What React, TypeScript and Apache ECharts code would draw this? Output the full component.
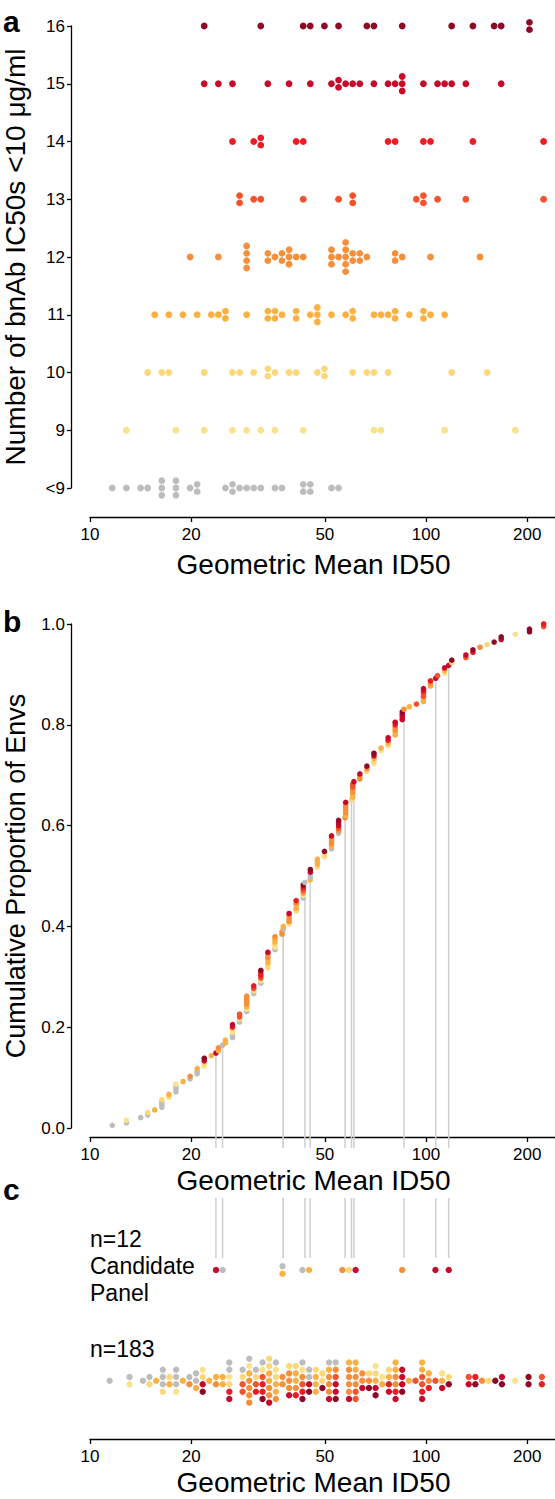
import React, { useEffect, useRef } from "react";
import * as echarts from "echarts";

const FONT = '"Liberation Sans", Arial, Helvetica, sans-serif';

// Groups: number of bnAb IC50s < 10 ug/ml
const GROUPS = ["<9", "9", "10", "11", "12", "13", "14", "15", "16"];
const GROUP_COLORS = ["#bdbdbd", "#f8e38c", "#fdd878", "#fbb044", "#f68f3a", "#f4512c", "#ec1c24", "#c70a2c", "#8c0a26"];

// Geometric mean ID50 of each Env, per group
const ROW_LT9 = [11.65, 12.84, 14.15, 14.85, 16.36, 16.36, 16.36, 18.02, 18.02, 18.02, 19.86, 20.84, 20.84, 25.3, 26.55, 26.55, 27.87, 29.26, 30.71, 32.24, 35.52, 37.28, 43.12, 43.12, 45.26, 45.26, 52.34, 54.94];
const ROW_9 = [12.84, 18.02, 21.88, 26.55, 29.26, 32.24, 35.52, 43.12, 70.0, 73.48, 113.6, 184.4];
const ROW_10 = [14.85, 16.36, 17.17, 21.88, 26.55, 27.87, 30.71, 33.84, 33.84, 35.52, 39.13, 41.07, 47.5, 49.86, 49.86, 60.53, 66.69, 70.0, 77.13, 119.3, 152.0];
const ROW_11 = [15.58, 17.17, 18.92, 20.84, 22.96, 24.1, 25.3, 25.3, 29.26, 33.84, 33.84, 35.52, 35.52, 37.28, 41.07, 41.07, 45.26, 47.5, 47.5, 47.5, 52.34, 57.67, 60.53, 60.53, 70.0, 73.48, 77.13, 80.96, 80.96, 89.2, 98.28, 98.28, 103.1, 113.6];
const ROW_12 = [19.86, 24.1, 29.26, 29.26, 29.26, 29.26, 33.84, 33.84, 35.52, 37.28, 37.28, 39.13, 39.13, 39.13, 41.07, 43.12, 52.34, 52.34, 52.34, 54.94, 57.67, 57.67, 57.67, 57.67, 57.67, 60.53, 60.53, 63.54, 63.54, 66.69, 80.96, 80.96, 84.98, 103.1, 144.8];
const ROW_13 = [27.87, 27.87, 30.71, 32.24, 43.12, 54.94, 60.53, 60.53, 93.63, 98.28, 98.28, 108.2, 131.4, 223.9];
const ROW_14 = [26.55, 30.71, 32.24, 32.24, 41.07, 43.12, 77.13, 80.96, 98.28, 103.1, 137.9, 223.9];
const ROW_15 = [21.88, 24.1, 26.55, 33.84, 39.13, 45.26, 52.34, 54.94, 54.94, 57.67, 60.53, 63.54, 70.0, 77.13, 80.96, 84.98, 84.98, 84.98, 98.28, 108.2, 113.6, 119.3, 131.4, 167.4];
const ROW_16 = [21.88, 32.24, 43.12, 45.26, 49.86, 54.94, 66.69, 70.0, 84.98, 119.3, 137.9, 159.5, 167.4, 203.2, 203.2];
const ROWS = [ROW_LT9, ROW_9, ROW_10, ROW_11, ROW_12, ROW_13, ROW_14, ROW_15, ROW_16];

// n=12 candidate panel
const CANDIDATE_VALUES = [23.7, 24.8, 37.6, 37.6, 43.6, 45.2, 57.4, 60.0, 61.0, 86.0, 106.9, 116.8];
const CANDIDATE_GROUPS = ["15", "<9", "<9", "11", "<9", "11", "12", "10", "15", "12", "15", "15"];

// axis
const X_TICKS = [10, 20, 50, 100, 200];
const X_MIN = 10;
const X_MAX = 242;
const Y_TICKS_B = [0, 0.2, 0.4, 0.6, 0.8, 1.0];

// dot-plot bin widths (log10 units)
const BIN_A = { anchor: 1.066369, step: 0.021042 };
const BIN_C = { anchor: 1.375, step: 0.01979 };

type Item = { v: number; g: number; cand: boolean };

function binStack(items: Item[], anchor: number, step: number) {
  const bins = new Map<number, Item[]>();
  items.forEach((it) => {
    const k = Math.round((Math.log10(it.v) - anchor) / step);
    if (!bins.has(k)) bins.set(k, []);
    bins.get(k)!.push(it);
  });
  const out: { x: number; s: number; g: number }[] = [];
  bins.forEach((list, k) => {
    const n = list.length;
    list.forEach((it, j) => out.push({ x: anchor + k * step, s: (n - 1) / 2 - j, g: it.g }));
  });
  return out;
}

function buildOption() {
  const lg = Math.log10;
  const groupIdx = (s: string) => GROUPS.indexOf(s);

  // remove candidates from their rows -> the other 183
  const rest = ROWS.map((r) => r.slice());
  const candidates: Item[] = CANDIDATE_VALUES.map((v, i) => ({ v, g: groupIdx(CANDIDATE_GROUPS[i]), cand: true }));
  candidates.forEach((c) => {
    const row = rest[c.g];
    let best = 0;
    row.forEach((v, j) => {
      if (Math.abs(lg(v / c.v)) < Math.abs(lg(row[best] / c.v))) best = j;
    });
    row.splice(best, 1);
  });
  const others: Item[] = [];
  rest.forEach((r, g) => r.forEach((v) => others.push({ v, g, cand: false })));
  others.sort((a, b) => a.v - b.v || a.g - b.g);

  // panel a
  const DY_A = 0.1264;
  const dataA: any[] = [];
  ROWS.forEach((r, g) => {
    binStack(r.map((v) => ({ v, g, cand: false })), BIN_A.anchor, BIN_A.step).forEach((d) => {
      dataA.push({ value: [d.x, g + d.s * DY_A], itemStyle: { color: GROUP_COLORS[g] } });
    });
  });

  // panel b: cumulative proportion
  const all = [...others, ...candidates].sort((a, b) => a.v - b.v || a.g - b.g);
  const N = all.length;
  const dataB = all.map((it, i) => ({ value: [lg(it.v), (i + 1) / N], itemStyle: { color: GROUP_COLORS[it.g] } }));
  const linesB = all
    .map((it, i) => ({ it, i }))
    .filter((o) => o.it.cand)
    .map((o) => [lg(o.it.v), (o.i + 1) / N]);

  // panel c
  const DY_C = 0.066;
  const dataC: any[] = [];
  binStack(candidates, BIN_C.anchor, BIN_C.step).forEach((d) =>
    dataC.push({ value: [d.x, 1 + d.s * DY_C], itemStyle: { color: GROUP_COLORS[d.g] } })
  );
  binStack(others, BIN_C.anchor, BIN_C.step).forEach((d) =>
    dataC.push({ value: [d.x, 0 + d.s * DY_C], itemStyle: { color: GROUP_COLORS[d.g] } })
  );
  const linesC = candidates.map((c) => [lg(c.v)]);

  const axisLineStyle = { color: "#000", width: 1.3 };
  const tickLogs = X_TICKS.map(lg);
  const makeX = (gridIndex: number, offset: number, nameGap: number) => ({
    type: "value",
    gridIndex,
    min: lg(X_MIN),
    max: lg(X_MAX),
    offset,
    axisLine: { show: true, onZero: false, lineStyle: axisLineStyle },
    axisTick: { show: true, length: 5, customValues: tickLogs, lineStyle: axisLineStyle },
    axisLabel: {
      show: true,
      customValues: tickLogs,
      formatter: (v: number) => String(Math.round(Math.pow(10, v))),
      color: "#000",
      fontSize: 17,
      fontFamily: FONT,
      margin: 9,
    },
    splitLine: { show: false },
    name: "Geometric Mean ID50",
    nameLocation: "middle",
    nameGap,
    nameTextStyle: { fontSize: 28, color: "#000", fontFamily: FONT, padding: [0, 18, 0, 0] },
  });

  const dotStyle = { opacity: 1, borderWidth: 0 };

  const option: any = {
    animation: false,
    backgroundColor: "#fff",
    textStyle: { fontFamily: FONT },
    grid: [
      { left: 90, top: 26, width: 465, height: 462, outerBoundsMode: "none" },
      { left: 90, top: 624, width: 465, height: 504, outerBoundsMode: "none" },
      { left: 90, top: 1270, width: 465, height: 110.7, outerBoundsMode: "none" },
    ],
    xAxis: [makeX(0, 29, 33), makeX(1, 9, 29), makeX(2, 58.3, 29)],
    yAxis: [
      {
        type: "value",
        gridIndex: 0,
        min: 0,
        max: 8,
        interval: 1,
        offset: 19,
        axisLine: { show: true, onZero: false, lineStyle: axisLineStyle },
        axisTick: { show: true, length: 4, lineStyle: axisLineStyle },
        axisLabel: { formatter: (v: number) => GROUPS[Math.round(v)], color: "#000", fontSize: 17, fontFamily: FONT, margin: 6 },
        splitLine: { show: false },
        name: "Number of bnAb IC50s <10 μg/ml",
        nameLocation: "middle",
        nameRotate: 90,
        nameGap: 42,
        nameTextStyle: { fontSize: 28, color: "#000", fontFamily: FONT },
      },
      {
        type: "value",
        gridIndex: 1,
        min: 0,
        max: 1,
        interval: 0.2,
        offset: 19,
        axisLine: { show: true, onZero: false, lineStyle: axisLineStyle },
        axisTick: { show: true, length: 4, lineStyle: axisLineStyle },
        axisLabel: {
          customValues: Y_TICKS_B,
          formatter: (v: number) => v.toFixed(1),
          color: "#000",
          fontSize: 17,
          fontFamily: FONT,
          margin: 6,
        },
        splitLine: { show: false },
        name: "Cumulative Proportion of Envs",
        nameLocation: "middle",
        nameRotate: 90,
        nameGap: 42,
        nameTextStyle: { fontSize: 27, color: "#000", fontFamily: FONT },
      },
      { type: "value", gridIndex: 2, min: 0, max: 1, show: false },
    ],
    series: [
      {
        type: "scatter",
        xAxisIndex: 0,
        yAxisIndex: 0,
        symbolSize: 6.8,
        clip: false,
        itemStyle: dotStyle,
        data: dataA,
        z: 3,
      },
      {
        type: "custom",
        xAxisIndex: 1,
        yAxisIndex: 1,
        clip: false,
        z: 1,
        data: linesB,
        renderItem: (_p: any, api: any) => {
          const top = api.coord([api.value(0), api.value(1)]);
          const bottom = api.coord([api.value(0), 0]);
          return {
            type: "line",
            shape: { x1: top[0], y1: top[1], x2: top[0], y2: bottom[1] + 20 },
            style: { stroke: "#cfcfcf", lineWidth: 1.5 },
          };
        },
      },
      {
        type: "scatter",
        xAxisIndex: 1,
        yAxisIndex: 1,
        symbolSize: 5.6,
        clip: false,
        itemStyle: dotStyle,
        data: dataB,
        z: 3,
      },
      {
        type: "custom",
        xAxisIndex: 2,
        yAxisIndex: 2,
        clip: false,
        z: 1,
        data: linesC,
        renderItem: (_p: any, api: any) => {
          const top = api.coord([api.value(0), 1.65]);
          const bottom = api.coord([api.value(0), 1.108]);
          return {
            type: "line",
            shape: { x1: top[0], y1: top[1], x2: top[0], y2: bottom[1] },
            style: { stroke: "#cfcfcf", lineWidth: 1.5 },
          };
        },
      },
      {
        type: "scatter",
        xAxisIndex: 2,
        yAxisIndex: 2,
        symbolSize: 6.4,
        clip: false,
        itemStyle: dotStyle,
        data: dataC,
        z: 3,
      },
    ],
    graphic: [
      { type: "text", x: 3, y: 21.8, style: { text: "a", fontSize: 30, fontWeight: "bold", fontFamily: FONT, fill: "#000", verticalAlign: "middle" } },
      { type: "text", x: 3, y: 621.5, style: { text: "b", fontSize: 30, fontWeight: "bold", fontFamily: FONT, fill: "#000", verticalAlign: "middle" } },
      { type: "text", x: 3, y: 1189, style: { text: "c", fontSize: 30, fontWeight: "bold", fontFamily: FONT, fill: "#000", verticalAlign: "middle" } },
      { type: "text", x: 90, y: 1239, style: { text: "n=12", fontSize: 23, fontFamily: FONT, fill: "#000", verticalAlign: "middle" } },
      { type: "text", x: 90, y: 1265.5, style: { text: "Candidate", fontSize: 23, fontFamily: FONT, fill: "#000", verticalAlign: "middle" } },
      { type: "text", x: 90, y: 1292.5, style: { text: "Panel", fontSize: 23, fontFamily: FONT, fill: "#000", verticalAlign: "middle" } },
      { type: "text", x: 90, y: 1349, style: { text: "n=183", fontSize: 23, fontFamily: FONT, fill: "#000", verticalAlign: "middle" } },
    ],
  };
  return option;
}

export default function App() {
  const ref = useRef<HTMLDivElement>(null);
  useEffect(() => {
    document.body.style.margin = "0";
    const chart = echarts.init(ref.current!, null, { renderer: "svg" });
    chart.setOption(buildOption());
    return () => chart.dispose();
  }, []);
  return <div ref={ref} style={{ position: "absolute", left: 0, top: 0, width: 555, height: 1499, background: "#fff" }} />;
}
